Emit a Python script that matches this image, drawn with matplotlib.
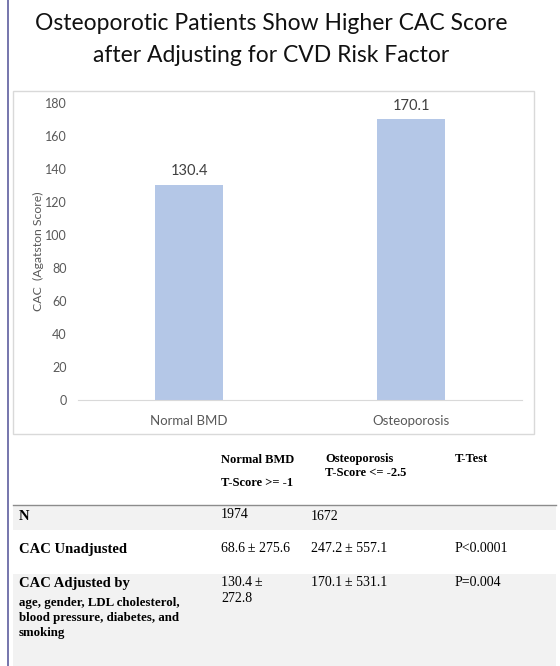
import matplotlib.pyplot as plt
import matplotlib.patches as patches

# Data
categories = ['Normal BMD', 'Osteoporosis']
cac_values = [130.4, 170.1]
y_ticks = [0, 20, 40, 60, 80, 100, 120, 140, 160, 180]

title_lines = ['Osteoporotic Patients Show Higher CAC Score',
               'after Adjusting for CVD Risk Factor']

col_headers = [['Normal BMD', 'T-Score >= -1'],
               ['Osteoporosis', 'T-Score <= -2.5'],
               ['T-Test']]
row_labels = ['N', 'CAC Unadjusted', 'CAC Adjusted by']
adjust_note = ['age, gender, LDL cholesterol,',
               'blood pressure, diabetes, and',
               'smoking']
normal_col = ['1974', '68.6\u2009\u00b1 275.6', '130.4\u2009\u00b1\n272.8']
osteo_col = ['1672', '247.2\u2009\u00b1 557.1', '170.1\u2009\u00b1 531.1']
ttest_col = ['', 'P<0.0001', 'P=0.004']

W, H = 560, 666
fig = plt.figure(figsize=(W / 100, H / 100), dpi=100)
fig.patch.set_facecolor('white')


def fx(px):
    return px / W


def fy(py):
    # pixel from top -> figure fraction
    return 1 - py / H


sans = 'Lato'
serif = 'Liberation Serif'

# left border line of the slide
fig.add_artist(plt.Line2D([fx(7.5), fx(7.5)], [0, 1], color='#6a6aa6', lw=1.3))

# title
for i, line in enumerate(title_lines):
    fig.text(fx(271), fy(24 + i * 32), line, ha='center', va='center',
             fontsize=16.5, family=sans, color='#111111')

# chart frame
fig.add_artist(patches.Rectangle((fx(13), fy(434)), fx(534 - 13), (434 - 91) / H,
                                 fill=False, edgecolor='#d9d9d9', lw=1.0))

# bar chart
ax = fig.add_axes([fx(78), fy(400), fx(522 - 78), (400 - 103) / H])
x = range(len(categories))
bars = ax.bar(x, cac_values, width=0.31, color='#b4c7e7')
ax.set_xlim(-0.5, 1.5)
ax.set_ylim(0, 180)
ax.set_yticks(y_ticks)
ax.set_xticks(list(x))
ax.set_xticklabels(categories, family=sans, fontsize=9.5, color='#595959')
for lbl in ax.get_yticklabels():
    lbl.set_family(sans)
    lbl.set_fontsize(9)
    lbl.set_color('#595959')
ax.tick_params(length=0)
ax.tick_params(axis='y', pad=8)
ax.tick_params(axis='x', pad=11)
for s in ['top', 'right', 'left']:
    ax.spines[s].set_visible(False)
ax.spines['bottom'].set_color('#d9d9d9')
ax.set_ylabel('CAC  (Agatston Score)', family=sans, fontsize=8.8, color='#595959',
              labelpad=1)
for b, v in zip(bars, cac_values):
    ax.text(b.get_x() + b.get_width() / 2, v + 4, f'{v:.1f}', ha='center',
            va='bottom', family=sans, fontsize=10.5, color='#404040')

# table backgrounds
fig.add_artist(patches.Rectangle((fx(13), fy(530)), fx(556 - 13), 24 / H,
                                 facecolor='#f2f2f2', edgecolor='none'))
fig.add_artist(patches.Rectangle((fx(13), 0), fx(556 - 13), fy(574),
                                 facecolor='#f2f2f2', edgecolor='none'))
fig.add_artist(plt.Line2D([fx(13), fx(556)], [fy(505), fy(505)], color='#8c8c8c', lw=1.0))

# column headers
hdr = dict(family=serif, weight='bold', fontsize=9, va='center')
fig.text(fx(221), fy(460), col_headers[0][0], **hdr)
fig.text(fx(221), fy(483), col_headers[0][1], **hdr)
fig.text(fx(325), fy(459), col_headers[1][0], **hdr)
fig.text(fx(325), fy(473), col_headers[1][1], **hdr)
fig.text(fx(455), fy(459), col_headers[2][0], **hdr)

# rows
row_y = [516, 549, 583]
for i, lab in enumerate(row_labels):
    fig.text(fx(19), fy(row_y[i]), lab, family=serif, weight='bold',
             fontsize=10.5, va='center')
for i, line in enumerate(adjust_note):
    fig.text(fx(19), fy(603 + i * 15), line, family=serif, weight='bold',
             fontsize=9.3, va='center')

val = dict(family=[serif, 'DejaVu Serif'], fontsize=10, va='center')
for i, v in enumerate(normal_col):
    lines = v.split('\n')
    for j, part in enumerate(lines):
        fig.text(fx(221), fy(row_y[i] - 1 + j * 17), part, **val)
for i, v in enumerate(osteo_col):
    fig.text(fx(311), fy(row_y[i]), v, **val)
for i, v in enumerate(ttest_col):
    if v:
        fig.text(fx(455), fy(row_y[i]), v, **val)

fig.savefig('out.png', dpi=100)
